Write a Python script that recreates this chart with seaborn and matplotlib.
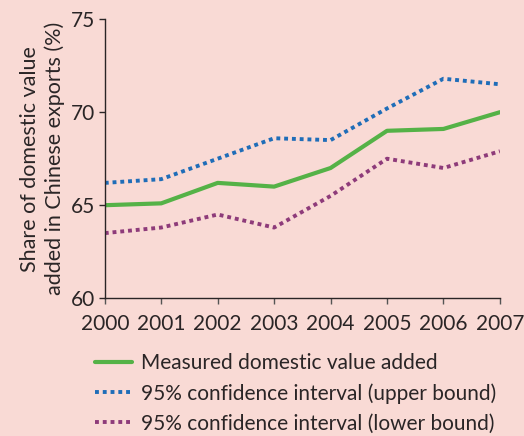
import numpy as np
import pandas as pd
import matplotlib
matplotlib.use("Agg")
import matplotlib.pyplot as plt
import seaborn as sns

years = [2000, 2001, 2002, 2003, 2004, 2005, 2006, 2007]
measured = [65.0, 65.1, 66.2, 66.0, 67.0, 69.0, 69.1, 70.0]
upper = [66.2, 66.4, 67.5, 68.6, 68.5, 70.2, 71.8, 71.5]
lower = [63.5, 63.8, 64.5, 63.8, 65.5, 67.5, 67.0, 67.9]

labels = ["Measured domestic value added",
          "95% confidence interval (upper bound)",
          "95% confidence interval (lower bound)"]
colors = ["#55b247", "#1f6db8", "#8e3b7a"]

bg = "#f9dad5"
txt = "#2a2526"

sns.set_style("ticks")
plt.rcParams["font.family"] = ["Lato", "DejaVu Sans"]

fig = plt.figure(figsize=(5.24, 4.36), dpi=100, facecolor=bg)
ax = fig.add_axes([0.2, 0.316, 0.754, 0.64])
ax.set_facecolor(bg)

df = pd.DataFrame({"year": years * 3,
                   "value": measured + upper + lower,
                   "series": [labels[0]] * 8 + [labels[1]] * 8 + [labels[2]] * 8})

for lab, col in zip(labels, colors):
    sub = df[df["series"] == lab]
    ls = "-" if lab == labels[0] else (0, (1, 1))
    sns.lineplot(data=sub, x="year", y="value", ax=ax, color=col,
                 linewidth=3 if lab == labels[0] else 2.8,
                 linestyle=ls, label=lab)

ax.set_xlim(2000, 2007)
ax.set_ylim(60, 75)
ax.set_xticks(years)
ax.set_yticks([60, 65, 70, 75])
ax.set_xlabel("")
ax.set_ylabel("Share of domestic value\nadded in Chinese exports (%)",
              fontsize=15.5, color=txt, labelpad=4, linespacing=1.3)
ax.tick_params(axis="both", labelsize=15, colors=txt, length=4, width=1,
               direction="out")
ax.tick_params(axis="x", colors="#555555", labelcolor=txt, pad=7)
ax.tick_params(axis="y", pad=3)
sns.despine(ax=ax)
for s in ["left", "bottom"]:
    ax.spines[s].set_color(txt)
    ax.spines[s].set_linewidth(1)

handles, labs = ax.get_legend_handles_labels()
ax.get_legend().remove()
leg = fig.legend(handles, labs, loc="upper left", bbox_to_anchor=(0.181, 0.19),
                 frameon=False, fontsize=15, handlelength=1.8,
                 handletextpad=0.4, labelspacing=0.48, borderpad=0,
                 borderaxespad=0)
for t in leg.get_texts():
    t.set_color(txt)

fig.savefig("out.png", dpi=100, facecolor=bg)
